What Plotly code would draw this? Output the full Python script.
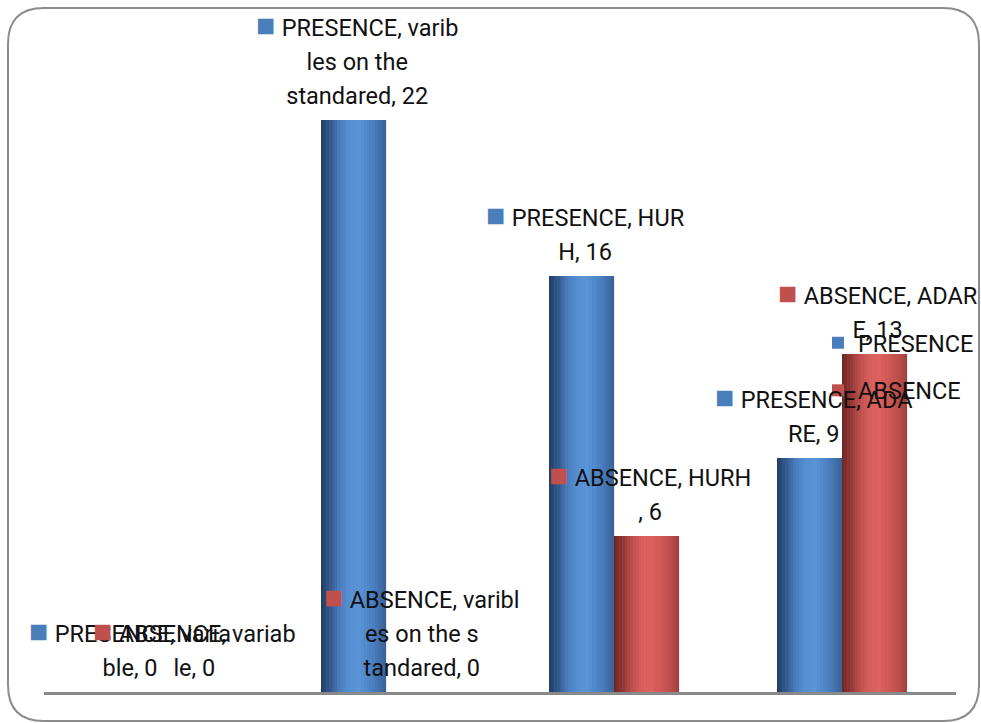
import plotly.graph_objects as go

# ---------------- data ----------------
categories = ["variable", "varibles on the standared", "HURH", "ADARE"]
presence = [0, 22, 16, 9]
absence = [0, 0, 6, 13]
series_names = ["PRESENCE", "ABSENCE"]
# where PowerPoint wrapped each data label (character indices into "SERIES, CATEGORY, VALUE")
presence_breaks = [[15], [15, 26], [13], [13]]
absence_breaks = [[15], [15, 26], [13], [13]]

BLUE = "#4A7EBB"
RED = "#C0504D"
# cylinder-like shading stops, left to right
BLUE_STOPS = ["#1f3a60", "#34598c", "#4a7dbd", "#5690d3", "#5b95d8", "#5189cb", "#4677b6", "#385f93"]
RED_STOPS = ["#6a2624", "#933836", "#c05250", "#da605d", "#de6360", "#d25956", "#c04f4c", "#9c3f3d"]
N_STRIPS = 24
TXT = "#111111"
FONT = "Roboto, Liberation Sans, Arial"
FS = 23.5

W, H = 981, 723
ML, MR, MT, MB = 44, 25, 30, 31
PW, PH = W - ML - MR, H - MT - MB
BW = 0.285  # bar width in category units


def hex2rgb(h):
    return [int(h[i:i + 2], 16) for i in (1, 3, 5)]


def shade(stops, t):
    pos = t * (len(stops) - 1)
    i = min(int(pos), len(stops) - 2)
    f = pos - i
    a, b = hex2rgb(stops[i]), hex2rgb(stops[i + 1])
    return "rgb(%d,%d,%d)" % tuple(round(a[k] + (b[k] - a[k]) * f) for k in range(3))


def wrap(s, breaks):
    parts, prev = [], 0
    for b in breaks:
        parts.append(s[prev:b])
        prev = b
    parts.append(s[prev:])
    return [p.strip() if i else p for i, p in enumerate(parts)]


fig = go.Figure()
for name, vals, col, stops, off, grp in [
    (series_names[0], presence, BLUE, BLUE_STOPS, -BW, "p"),
    (series_names[1], absence, RED, RED_STOPS, 0.0, "a"),
]:
    fig.add_trace(go.Bar(name=name, x=categories, y=vals, width=BW, offset=off,
                         marker=dict(color=col, line=dict(width=0)), legendgroup=grp))
    for i in range(N_STRIPS):
        fig.add_trace(go.Bar(x=categories, y=vals, width=BW / N_STRIPS * 1.05,
                             offset=off + BW * i / N_STRIPS,
                             marker=dict(color=shade(stops, (i + 0.5) / N_STRIPS), line=dict(width=0)),
                             showlegend=False, hoverinfo="skip", legendgroup=grp))

bar_px = PW / len(categories) * BW
annotations = []
for sname, vals, brks, col, sgn in [
    (series_names[0], presence, presence_breaks, BLUE, -1),
    (series_names[1], absence, absence_breaks, RED, 1),
]:
    for c, v, b in zip(categories, vals, brks):
        lines = wrap(f"{sname}, {c}, {v}", b)
        lines = [f"<span style='font-size:{FS}px'>{ln}</span>" for ln in lines]
        lines[0] = f"<span style='color:{col};font-size:32px'>■</span> " + lines[0]
        annotations.append(dict(
            x=c, y=v, xref="x", yref="y", text="<br>".join(lines),
            showarrow=False, yanchor="bottom", xanchor="center",
            xshift=sgn * bar_px / 2 + 4, yshift=8,
            font=dict(family=FONT, size=26, color=TXT), align="center"))


def px2paper(px, py):
    return (px - ML) / PW, (H - MB - py) / PH


# rounded outer border
x0, y0, x1, y1, r = 8, 8, 979, 721, 36
def P(px, py):
    a, b = px2paper(px, py)
    return f"{a:.5f},{b:.5f}"
path = (f"M {P(x0, y0 + r)} Q {P(x0, y0)} {P(x0 + r, y0)} L {P(x1 - r, y0)} "
        f"Q {P(x1, y0)} {P(x1, y0 + r)} L {P(x1, y1 - r)} Q {P(x1, y1)} {P(x1 - r, y1)} "
        f"L {P(x0 + r, y1)} Q {P(x0, y1)} {P(x0, y1 - r)} Z")

lx, ly = px2paper(818, 321)
fig.update_layout(
    width=W, height=H, autosize=False,
    margin=dict(l=ML, r=MR, t=MT, b=MB, autoexpand=False),
    paper_bgcolor="white", plot_bgcolor="white",
    barmode="overlay",
    xaxis=dict(showticklabels=False, ticks="", showgrid=False, showline=True,
               linecolor="#8a8a8a", linewidth=3, range=[-0.5, 3.5], fixedrange=True),
    yaxis=dict(visible=False, range=[0, PH / 26], showgrid=False, zeroline=False),
    showlegend=True,
    legend=dict(x=lx, y=ly, xanchor="left", yanchor="top", bgcolor="rgba(0,0,0,0)",
                font=dict(family=FONT, size=FS, color=TXT), traceorder="grouped",
                tracegroupgap=14, itemwidth=30),
    annotations=annotations,
    shapes=[dict(type="path", path=path, xref="paper", yref="paper",
                 line=dict(color="#8c8c8c", width=2), layer="below")],
    font=dict(family=FONT, size=FS, color=TXT),
)
post = ("document.documentElement.style.overflow='hidden';"
        "document.body.style.margin='0';document.body.style.overflow='hidden';"
        "var gd=document.getElementById('{plot_id}');"
        "Plotly.relayout(gd,{width:%d,height:%d});" % (W, H))
fig.write_html("out.html", config={"responsive": False, "displayModeBar": False},
               post_script=post)
